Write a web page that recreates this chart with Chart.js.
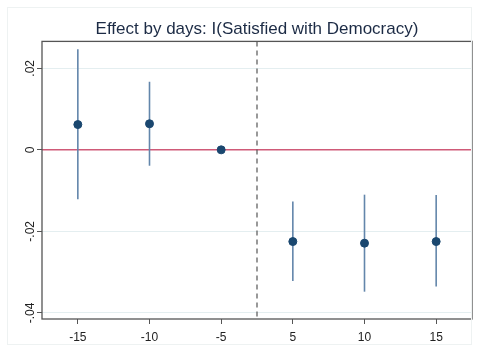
<!DOCTYPE html>
<html>
<head>
<meta charset="utf-8">
<script src="https://cdn.jsdelivr.net/npm/chart.js@4/dist/chart.umd.min.js"></script>
<style>
  html, body { margin: 0; padding: 0; background: #fff; }
  #wrap { width: 479px; height: 352px; position: relative; }
</style>
</head>
<body>
<div id="wrap"><canvas id="graphic"></canvas></div>
<script>
// days relative to event, point estimates and 95% CI
var days = ['-15', '-10', '-5', '5', '10', '15'];
var coef = [0.0062, 0.0064, 0, -0.0225, -0.0229, -0.0225];
var ciLow = [-0.0121, -0.0039, null, -0.0322, -0.0348, -0.0335];
var ciHigh = [0.0247, 0.0167, null, -0.0127, -0.0110, -0.0111];
var yTicks = [-0.04, -0.02, 0, 0.02];
var cutAt = 3.5; // dashed line between -5 and 5

var points = [];
for (var i = 0; i < days.length; i++) {
    points.push({x: i + 1, y: coef[i]});
}

function fmtTick(v) {
    if (Math.abs(v) < 1e-9) return '0';
    var s = String(Math.round(v * 100) / 100);
    return s.replace('0.', '.');
}

var extras = {
    id: 'extras',
    beforeDatasetsDraw: function (chart) {
        var c = chart.ctx, a = chart.chartArea;
        var xs = chart.scales.x, ys = chart.scales.y;
        c.save();
        // zero line
        var y0 = ys.getPixelForValue(0);
        c.strokeStyle = '#cf5a78';
        c.lineWidth = 1.5;
        c.beginPath(); c.moveTo(a.left, y0); c.lineTo(a.right, y0); c.stroke();
        // dashed cut line
        var xc = xs.getPixelForValue(cutAt);
        c.strokeStyle = '#555';
        c.lineWidth = 1.2;
        c.setLineDash([5, 4]);
        c.beginPath(); c.moveTo(xc, a.top); c.lineTo(xc, a.bottom); c.stroke();
        c.setLineDash([]);
        // error bars
        c.strokeStyle = '#6386ab';
        c.lineWidth = 1.6;
        for (var i = 0; i < days.length; i++) {
            if (ciLow[i] === null) continue;
            var px = xs.getPixelForValue(i + 1);
            c.beginPath();
            c.moveTo(px, ys.getPixelForValue(ciLow[i]));
            c.lineTo(px, ys.getPixelForValue(ciHigh[i]));
            c.stroke();
        }
        c.restore();
    },
    afterDraw: function (chart) {
        var c = chart.ctx, a = chart.chartArea;
        c.save();
        c.strokeStyle = '#555';
        c.lineWidth = 1.3;
        c.strokeRect(a.left, a.top, a.right - a.left, a.bottom - a.top);
        c.strokeStyle = '#eef2f2';
        c.lineWidth = 1;
        c.strokeRect(7.5, 7.5, chart.width - 15, chart.height - 15);
        c.restore();
    }
};

var ctx = document.getElementById('graphic');
var chartGraph = new Chart(ctx, {
    type: 'scatter',
    data: {
        datasets: [{
            label: 'Effect',
            data: points,
            backgroundColor: '#1a476f',
            borderColor: '#1a476f',
            pointRadius: 4,
            pointHoverRadius: 4
        }]
    },
    options: {
        responsive: true,
        maintainAspectRatio: false,
        animation: false,
        layout: { padding: { left: 8, right: 7, top: 0, bottom: 8 } },
        plugins: {
            legend: { display: false },
            tooltip: { enabled: false },
            title: {
                display: true,
                fullSize: false,
                text: 'Effect by days: I(Satisfied with Democracy)',
                color: '#1c2b45',
                font: { family: 'Liberation Sans, Arial', size: 17, weight: 'normal' },
                padding: { top: 19, bottom: 2 }
            }
        },
        scales: {
            x: {
                type: 'linear',
                min: 0.5,
                max: 6.5,
                afterBuildTicks: function (s) {
                    s.ticks = days.map(function (d, i) { return {value: i + 1}; });
                },
                afterFit: function (s) { s.height = 25; },
                ticks: {
                    callback: function (v) { return days[Math.round(v) - 1]; },
                    color: '#222',
                    font: { family: 'Liberation Sans, Arial', size: 12 },
                    padding: 6,
                    maxRotation: 0
                },
                grid: { display: true, drawOnChartArea: false, tickLength: 5, tickColor: '#555' },
                border: { display: false }
            },
            y: {
                min: -0.0415,
                max: 0.0266,
                afterBuildTicks: function (s) {
                    s.ticks = yTicks.map(function (v) { return {value: v}; });
                },
                afterFit: function (s) { s.width = 34; },
                ticks: {
                    callback: fmtTick,
                    color: '#222',
                    font: { family: 'Liberation Sans, Arial', size: 12 },
                    minRotation: 90,
                    maxRotation: 90,
                    crossAlign: 'center',
                    padding: -4
                },
                grid: { color: '#e4eef0', lineWidth: 1, tickLength: 5, tickColor: '#555' },
                border: { display: false }
            }
        }
    },
    plugins: [extras]
});
</script>
</body>
</html>
